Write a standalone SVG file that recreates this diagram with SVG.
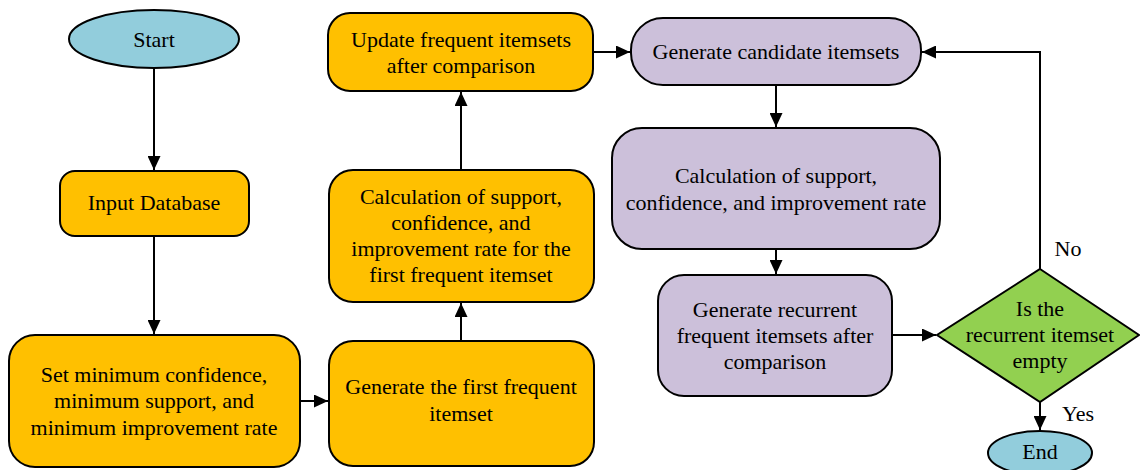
<svg xmlns="http://www.w3.org/2000/svg" width="1140" height="470" viewBox="0 0 1140 470" font-family="Liberation Serif, serif">
  <style>
    .box { stroke: #000; stroke-width: 2; }
    .term { fill: #92CDDC; }
    .step { fill: #FFC000; }
    .calc { fill: #CCC0DA; }
    .dec { fill: #92D050; }
    text { font-family: 'Liberation Serif', serif; font-size: 22px; fill: #000; text-anchor: middle; }
    .edge { fill: none; stroke: #000; stroke-width: 2; }
  </style>
  <defs>
    <marker id="arrow" viewBox="0 0 14 13" refX="14" refY="6.5" markerWidth="14" markerHeight="13" markerUnits="userSpaceOnUse" orient="auto">
      <path d="M0,0 L14,6.5 L0,13 Z" fill="#000"/>
    </marker>
  </defs>
  <rect width="1140" height="470" fill="#fff"/>

  <g id="connectors">
    <line class="edge" x1="154" y1="68" x2="154" y2="170" marker-end="url(#arrow)"/>
    <line class="edge" x1="154" y1="236" x2="154" y2="334" marker-end="url(#arrow)"/>
    <line class="edge" x1="300" y1="401" x2="328" y2="401" marker-end="url(#arrow)"/>
    <line class="edge" x1="461" y1="341" x2="461" y2="303" marker-end="url(#arrow)"/>
    <line class="edge" x1="461" y1="170" x2="461" y2="92" marker-end="url(#arrow)"/>
    <line class="edge" x1="593" y1="52" x2="630" y2="52" marker-end="url(#arrow)"/>
    <line class="edge" x1="776" y1="85" x2="776" y2="127" marker-end="url(#arrow)"/>
    <line class="edge" x1="776" y1="249" x2="776" y2="274" marker-end="url(#arrow)"/>
    <line class="edge" x1="892" y1="335" x2="936" y2="335" marker-end="url(#arrow)"/>
    <polyline class="edge" points="1040,269 1040,52 922,52" marker-end="url(#arrow)"/>
    <line class="edge" x1="1040" y1="402" x2="1040" y2="430" marker-end="url(#arrow)"/>
    <text x="1068" y="256">No</text>
    <text x="1078" y="421">Yes</text>
  </g>

  <g id="start">
    <ellipse class="box term" cx="154" cy="39" rx="85" ry="29"/>
    <text x="154" y="47">Start</text>
  </g>

  <g id="input-database">
    <rect class="box step" x="60" y="171" width="189" height="65" rx="15"/>
    <text x="154" y="210">Input Database</text>
  </g>

  <g id="set-minimums">
    <rect class="box step" x="9" y="335" width="291" height="132" rx="26"/>
    <text x="154" y="382">Set minimum confidence,</text>
    <text x="154" y="408">minimum support, and</text>
    <text x="154" y="435">minimum improvement rate</text>
  </g>

  <g id="first-frequent">
    <rect class="box step" x="329" y="341" width="265" height="125" rx="24"/>
    <text x="461" y="394">Generate the first frequent</text>
    <text x="461" y="421">itemset</text>
  </g>

  <g id="first-calculation">
    <rect class="box step" x="329" y="170" width="265" height="132" rx="24"/>
    <text x="461" y="204">Calculation of support,</text>
    <text x="461" y="230">confidence, and</text>
    <text x="461" y="256">improvement rate for the</text>
    <text x="461" y="282">first frequent itemset</text>
  </g>

  <g id="update-frequent">
    <rect class="box step" x="328" y="13" width="265" height="78" rx="22"/>
    <text x="461" y="47">Update frequent itemsets</text>
    <text x="461" y="73">after comparison</text>
  </g>

  <g id="candidate-itemsets">
    <rect class="box calc" x="631" y="18" width="290" height="67" rx="32"/>
    <text x="776" y="59">Generate candidate itemsets</text>
  </g>

  <g id="recurrent-calculation">
    <rect class="box calc" x="612" y="128" width="328" height="121" rx="30"/>
    <text x="776" y="183">Calculation of support,</text>
    <text x="776" y="210">confidence, and improvement rate</text>
  </g>

  <g id="recurrent-frequent">
    <rect class="box calc" x="658" y="275" width="234" height="121" rx="26"/>
    <text x="775" y="317">Generate recurrent</text>
    <text x="775" y="343">frequent itemsets after</text>
    <text x="775" y="369">comparison</text>
  </g>

  <g id="empty-check">
    <polygon class="box dec" points="1040,269 1139,335 1040,402 937,335"/>
    <text x="1040" y="316">Is the</text>
    <text x="1040" y="342">recurrent itemset</text>
    <text x="1040" y="368">empty</text>
  </g>

  <g id="end">
    <ellipse class="box term" cx="1040" cy="453" rx="52" ry="22"/>
    <text x="1040" y="459">End</text>
  </g>
</svg>
